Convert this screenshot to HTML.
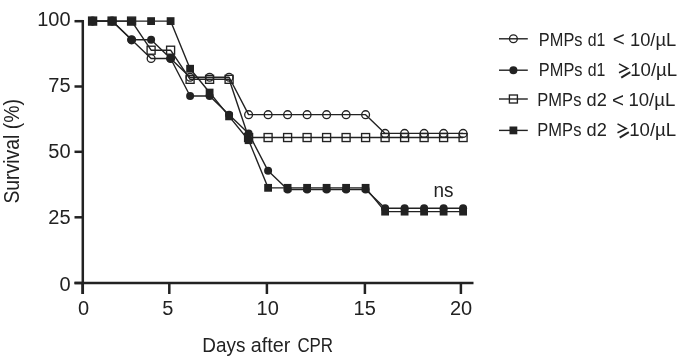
<!DOCTYPE html>
<html><head><meta charset="utf-8"><style>
html,body{margin:0;padding:0;background:#fff;}
svg{display:block;will-change:transform;}
text{font-family:"Liberation Sans",sans-serif;fill:#222;}
</style></head><body>
<svg width="685" height="364" viewBox="0 0 685 364">
<rect width="685" height="364" fill="#fff"/>
<line x1="82.8" y1="20.0" x2="82.8" y2="294" stroke="#222" stroke-width="2.5"/>
<line x1="74.5" y1="283.0" x2="473.5" y2="283.0" stroke="#222" stroke-width="2.5"/>
<line x1="74.5" y1="21.2" x2="82.8" y2="21.2" stroke="#222" stroke-width="2.5"/>
<line x1="74.5" y1="86.5" x2="82.8" y2="86.5" stroke="#222" stroke-width="2.5"/>
<line x1="74.5" y1="151.8" x2="82.8" y2="151.8" stroke="#222" stroke-width="2.5"/>
<line x1="74.5" y1="217.3" x2="82.8" y2="217.3" stroke="#222" stroke-width="2.5"/>
<line x1="74.5" y1="283.0" x2="82.8" y2="283.0" stroke="#222" stroke-width="2.5"/>
<line x1="82.6" y1="283.0" x2="82.6" y2="294" stroke="#222" stroke-width="2.5"/>
<line x1="169.3" y1="283.0" x2="169.3" y2="294" stroke="#222" stroke-width="2.5"/>
<line x1="266.9" y1="283.0" x2="266.9" y2="294" stroke="#222" stroke-width="2.5"/>
<line x1="364.9" y1="283.0" x2="364.9" y2="294" stroke="#222" stroke-width="2.5"/>
<line x1="460.9" y1="283.0" x2="460.9" y2="294" stroke="#222" stroke-width="2.5"/>
<polyline points="92.60,21.10 112.10,21.10 131.60,21.10 151.10,50.21 170.60,50.21 190.10,79.32 209.60,79.32 229.10,79.32 248.60,137.54 268.10,137.54 287.60,137.54 307.10,137.54 326.60,137.54 346.10,137.54 365.60,137.54 385.10,137.54 404.60,137.54 424.10,137.54 443.60,137.54 463.10,137.54" fill="none" stroke="#222" stroke-width="1.4" stroke-linejoin="round"/>
<polyline points="92.60,21.10 112.10,21.10 131.60,39.81 151.10,58.53 170.60,58.53 190.10,77.24 209.60,77.24 229.10,77.24 248.60,114.67 268.10,114.67 287.60,114.67 307.10,114.67 326.60,114.67 346.10,114.67 365.60,114.67 385.10,133.39 404.60,133.39 424.10,133.39 443.60,133.39 463.10,133.39" fill="none" stroke="#222" stroke-width="1.4" stroke-linejoin="round"/>
<polyline points="92.60,21.10 112.10,21.10 131.60,39.81 151.10,39.81 170.60,58.53 190.10,95.96 209.60,95.96 229.10,114.67 248.60,133.39 268.10,170.81 287.60,189.53 307.10,189.53 326.60,189.53 346.10,189.53 365.60,189.53 385.10,208.24 404.60,208.24 424.10,208.24 443.60,208.24 463.10,208.24" fill="none" stroke="#222" stroke-width="1.4" stroke-linejoin="round"/>
<polyline points="92.60,21.10 112.10,21.10 131.60,21.10 151.10,21.10 170.60,21.10 190.10,68.74 209.60,92.56 229.10,116.37 248.60,140.19 268.10,187.83 287.60,187.83 307.10,187.83 326.60,187.83 346.10,187.83 365.60,187.83 385.10,211.64 404.60,211.64 424.10,211.64 443.60,211.64 463.10,211.64" fill="none" stroke="#222" stroke-width="1.4" stroke-linejoin="round"/>
<rect x="88.60" y="17.10" width="8.0" height="8.0" fill="none" stroke="#222" stroke-width="1.35"/>
<rect x="108.10" y="17.10" width="8.0" height="8.0" fill="none" stroke="#222" stroke-width="1.35"/>
<rect x="127.60" y="17.10" width="8.0" height="8.0" fill="none" stroke="#222" stroke-width="1.35"/>
<rect x="147.10" y="46.21" width="8.0" height="8.0" fill="none" stroke="#222" stroke-width="1.35"/>
<rect x="166.60" y="46.21" width="8.0" height="8.0" fill="none" stroke="#222" stroke-width="1.35"/>
<rect x="186.10" y="75.32" width="8.0" height="8.0" fill="none" stroke="#222" stroke-width="1.35"/>
<rect x="205.60" y="75.32" width="8.0" height="8.0" fill="none" stroke="#222" stroke-width="1.35"/>
<rect x="225.10" y="75.32" width="8.0" height="8.0" fill="none" stroke="#222" stroke-width="1.35"/>
<rect x="244.60" y="133.54" width="8.0" height="8.0" fill="none" stroke="#222" stroke-width="1.35"/>
<rect x="264.10" y="133.54" width="8.0" height="8.0" fill="none" stroke="#222" stroke-width="1.35"/>
<rect x="283.60" y="133.54" width="8.0" height="8.0" fill="none" stroke="#222" stroke-width="1.35"/>
<rect x="303.10" y="133.54" width="8.0" height="8.0" fill="none" stroke="#222" stroke-width="1.35"/>
<rect x="322.60" y="133.54" width="8.0" height="8.0" fill="none" stroke="#222" stroke-width="1.35"/>
<rect x="342.10" y="133.54" width="8.0" height="8.0" fill="none" stroke="#222" stroke-width="1.35"/>
<rect x="361.60" y="133.54" width="8.0" height="8.0" fill="none" stroke="#222" stroke-width="1.35"/>
<rect x="381.10" y="133.54" width="8.0" height="8.0" fill="none" stroke="#222" stroke-width="1.35"/>
<rect x="400.60" y="133.54" width="8.0" height="8.0" fill="none" stroke="#222" stroke-width="1.35"/>
<rect x="420.10" y="133.54" width="8.0" height="8.0" fill="none" stroke="#222" stroke-width="1.35"/>
<rect x="439.60" y="133.54" width="8.0" height="8.0" fill="none" stroke="#222" stroke-width="1.35"/>
<rect x="459.10" y="133.54" width="8.0" height="8.0" fill="none" stroke="#222" stroke-width="1.35"/>
<circle cx="92.60" cy="21.10" r="3.9" fill="none" stroke="#222" stroke-width="1.35"/>
<circle cx="112.10" cy="21.10" r="3.9" fill="none" stroke="#222" stroke-width="1.35"/>
<circle cx="131.60" cy="39.81" r="3.9" fill="none" stroke="#222" stroke-width="1.35"/>
<circle cx="151.10" cy="58.53" r="3.9" fill="none" stroke="#222" stroke-width="1.35"/>
<circle cx="170.60" cy="58.53" r="3.9" fill="none" stroke="#222" stroke-width="1.35"/>
<circle cx="190.10" cy="77.24" r="3.9" fill="none" stroke="#222" stroke-width="1.35"/>
<circle cx="209.60" cy="77.24" r="3.9" fill="none" stroke="#222" stroke-width="1.35"/>
<circle cx="229.10" cy="77.24" r="3.9" fill="none" stroke="#222" stroke-width="1.35"/>
<circle cx="248.60" cy="114.67" r="3.9" fill="none" stroke="#222" stroke-width="1.35"/>
<circle cx="268.10" cy="114.67" r="3.9" fill="none" stroke="#222" stroke-width="1.35"/>
<circle cx="287.60" cy="114.67" r="3.9" fill="none" stroke="#222" stroke-width="1.35"/>
<circle cx="307.10" cy="114.67" r="3.9" fill="none" stroke="#222" stroke-width="1.35"/>
<circle cx="326.60" cy="114.67" r="3.9" fill="none" stroke="#222" stroke-width="1.35"/>
<circle cx="346.10" cy="114.67" r="3.9" fill="none" stroke="#222" stroke-width="1.35"/>
<circle cx="365.60" cy="114.67" r="3.9" fill="none" stroke="#222" stroke-width="1.35"/>
<circle cx="385.10" cy="133.39" r="3.9" fill="none" stroke="#222" stroke-width="1.35"/>
<circle cx="404.60" cy="133.39" r="3.9" fill="none" stroke="#222" stroke-width="1.35"/>
<circle cx="424.10" cy="133.39" r="3.9" fill="none" stroke="#222" stroke-width="1.35"/>
<circle cx="443.60" cy="133.39" r="3.9" fill="none" stroke="#222" stroke-width="1.35"/>
<circle cx="463.10" cy="133.39" r="3.9" fill="none" stroke="#222" stroke-width="1.35"/>
<circle cx="92.60" cy="21.10" r="4.0" fill="#222"/>
<circle cx="112.10" cy="21.10" r="4.0" fill="#222"/>
<circle cx="131.60" cy="39.81" r="4.0" fill="#222"/>
<circle cx="151.10" cy="39.81" r="4.0" fill="#222"/>
<circle cx="170.60" cy="58.53" r="4.0" fill="#222"/>
<circle cx="190.10" cy="95.96" r="4.0" fill="#222"/>
<circle cx="209.60" cy="95.96" r="4.0" fill="#222"/>
<circle cx="229.10" cy="114.67" r="4.0" fill="#222"/>
<circle cx="248.60" cy="133.39" r="4.0" fill="#222"/>
<circle cx="268.10" cy="170.81" r="4.0" fill="#222"/>
<circle cx="287.60" cy="189.53" r="4.0" fill="#222"/>
<circle cx="307.10" cy="189.53" r="4.0" fill="#222"/>
<circle cx="326.60" cy="189.53" r="4.0" fill="#222"/>
<circle cx="346.10" cy="189.53" r="4.0" fill="#222"/>
<circle cx="365.60" cy="189.53" r="4.0" fill="#222"/>
<circle cx="385.10" cy="208.24" r="4.0" fill="#222"/>
<circle cx="404.60" cy="208.24" r="4.0" fill="#222"/>
<circle cx="424.10" cy="208.24" r="4.0" fill="#222"/>
<circle cx="443.60" cy="208.24" r="4.0" fill="#222"/>
<circle cx="463.10" cy="208.24" r="4.0" fill="#222"/>
<rect x="88.70" y="17.20" width="7.8" height="7.8" fill="#222"/>
<rect x="108.20" y="17.20" width="7.8" height="7.8" fill="#222"/>
<rect x="127.70" y="17.20" width="7.8" height="7.8" fill="#222"/>
<rect x="147.20" y="17.20" width="7.8" height="7.8" fill="#222"/>
<rect x="166.70" y="17.20" width="7.8" height="7.8" fill="#222"/>
<rect x="186.20" y="64.84" width="7.8" height="7.8" fill="#222"/>
<rect x="205.70" y="88.66" width="7.8" height="7.8" fill="#222"/>
<rect x="225.20" y="112.47" width="7.8" height="7.8" fill="#222"/>
<rect x="244.70" y="136.29" width="7.8" height="7.8" fill="#222"/>
<rect x="264.20" y="183.93" width="7.8" height="7.8" fill="#222"/>
<rect x="283.70" y="183.93" width="7.8" height="7.8" fill="#222"/>
<rect x="303.20" y="183.93" width="7.8" height="7.8" fill="#222"/>
<rect x="322.70" y="183.93" width="7.8" height="7.8" fill="#222"/>
<rect x="342.20" y="183.93" width="7.8" height="7.8" fill="#222"/>
<rect x="361.70" y="183.93" width="7.8" height="7.8" fill="#222"/>
<rect x="381.20" y="207.74" width="7.8" height="7.8" fill="#222"/>
<rect x="400.70" y="207.74" width="7.8" height="7.8" fill="#222"/>
<rect x="420.20" y="207.74" width="7.8" height="7.8" fill="#222"/>
<rect x="439.70" y="207.74" width="7.8" height="7.8" fill="#222"/>
<rect x="459.20" y="207.74" width="7.8" height="7.8" fill="#222"/>
<text x="70.6" y="26.4" font-size="20" text-anchor="end">100</text>
<text x="70.6" y="92.4" font-size="20" text-anchor="end">75</text>
<text x="70.6" y="158.1" font-size="20" text-anchor="end">50</text>
<text x="70.6" y="223.9" font-size="20" text-anchor="end">25</text>
<text x="70.6" y="290.5" font-size="20" text-anchor="end">0</text>
<text x="83.5" y="315.2" font-size="20" text-anchor="middle">0</text>
<text x="167.7" y="315.2" font-size="20" text-anchor="middle">5</text>
<text x="267.7" y="315.2" font-size="20" text-anchor="middle">10</text>
<text x="364.7" y="315.2" font-size="20" text-anchor="middle">15</text>
<text x="461.1" y="315.2" font-size="20" text-anchor="middle">20</text>
<text x="202.35" y="352.2" font-size="20.5" text-anchor="start" textLength="43.1" lengthAdjust="spacingAndGlyphs">Days</text>
<text x="250.8" y="352.2" font-size="20.5" text-anchor="start" textLength="39.6" lengthAdjust="spacingAndGlyphs">after</text>
<text x="297.4" y="352.2" font-size="20.5" text-anchor="start" textLength="35.7" lengthAdjust="spacingAndGlyphs">CPR</text>
<text x="0" y="0" font-size="21.3" transform="translate(18.8,203.6) rotate(-90)" textLength="104.5" lengthAdjust="spacingAndGlyphs">Survival (%)</text>
<text x="433.5" y="196.6" font-size="20" text-anchor="start" textLength="20" lengthAdjust="spacingAndGlyphs">ns</text>
<line x1="499" y1="38.8" x2="527.8" y2="38.8" stroke="#222" stroke-width="1.4"/>
<circle cx="513.4" cy="38.8" r="3.9" fill="none" stroke="#222" stroke-width="1.35"/>
<text x="538.86" y="45.8" font-size="19" text-anchor="start" textLength="43.63" lengthAdjust="spacingAndGlyphs">PMPs</text>
<text x="587.73" y="45.8" font-size="19" text-anchor="start" textLength="17.64" lengthAdjust="spacingAndGlyphs">d1</text>
<text x="612.8" y="46.4" font-size="20.5" text-anchor="start" textLength="12" lengthAdjust="spacingAndGlyphs">&lt;</text>
<text x="630.0" y="45.8" font-size="19" text-anchor="start" textLength="46.2" lengthAdjust="spacingAndGlyphs">10/µL</text>
<line x1="499" y1="70.2" x2="527.8" y2="70.2" stroke="#222" stroke-width="1.4"/>
<circle cx="513.4" cy="70.2" r="4.0" fill="#222"/>
<text x="538.86" y="76.1" font-size="19" text-anchor="start" textLength="43.63" lengthAdjust="spacingAndGlyphs">PMPs</text>
<text x="587.73" y="76.1" font-size="19" text-anchor="start" textLength="17.64" lengthAdjust="spacingAndGlyphs">d1</text>
<path d="M619.0,63.9 L627.70,68.50 L619.0,72.70" fill="none" stroke="#222" stroke-width="1.5" stroke-linejoin="miter"/>
<path d="M621.20,77.70 L630.30,72.10" fill="none" stroke="#222" stroke-width="2"/>
<text x="630.2" y="76.1" font-size="19" text-anchor="start" textLength="47.0" lengthAdjust="spacingAndGlyphs">10/µL</text>
<line x1="499" y1="99.0" x2="527.8" y2="99.0" stroke="#222" stroke-width="1.4"/>
<rect x="509.4" y="95.0" width="8.0" height="8.0" fill="none" stroke="#222" stroke-width="1.35"/>
<text x="537.35" y="106.2" font-size="19" text-anchor="start" textLength="44.05" lengthAdjust="spacingAndGlyphs">PMPs</text>
<text x="586.53" y="106.2" font-size="19" text-anchor="start" textLength="20.28" lengthAdjust="spacingAndGlyphs">d2</text>
<text x="612.0" y="106.8" font-size="20.5" text-anchor="start" textLength="12" lengthAdjust="spacingAndGlyphs">&lt;</text>
<text x="628.4" y="106.2" font-size="19" text-anchor="start" textLength="47.0" lengthAdjust="spacingAndGlyphs">10/µL</text>
<line x1="499" y1="130.4" x2="527.8" y2="130.4" stroke="#222" stroke-width="1.4"/>
<rect x="509.5" y="126.5" width="7.8" height="7.8" fill="#222"/>
<text x="537.35" y="136.1" font-size="19" text-anchor="start" textLength="44.05" lengthAdjust="spacingAndGlyphs">PMPs</text>
<text x="586.53" y="136.1" font-size="19" text-anchor="start" textLength="20.28" lengthAdjust="spacingAndGlyphs">d2</text>
<path d="M617.5,123.9 L626.20,128.50 L617.5,132.70" fill="none" stroke="#222" stroke-width="1.5" stroke-linejoin="miter"/>
<path d="M619.70,137.70 L628.80,132.10" fill="none" stroke="#222" stroke-width="2"/>
<text x="629.2" y="136.1" font-size="19" text-anchor="start" textLength="47.0" lengthAdjust="spacingAndGlyphs">10/µL</text>
</svg>
</body></html>
